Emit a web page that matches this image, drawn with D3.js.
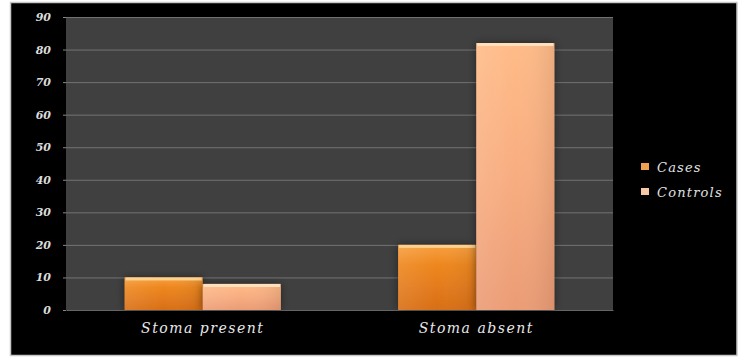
<!DOCTYPE html>
<html>
<head>
<meta charset="utf-8">
<script src="https://cdn.jsdelivr.net/npm/d3@7"></script>
<style>
  html, body { margin: 0; padding: 0; background: #ffffff; }
  svg { display: block; }
</style>
</head>
<body>
<svg id="chart" width="738" height="358"></svg>
<script>
// Chart data
const categories = ["Stoma present", "Stoma absent"];
const seriesNames = ["Cases", "Controls"];
const cases = [10, 20];
const controls = [8, 82];
const yTicks = [0, 10, 20, 30, 40, 50, 60, 70, 80, 90];

const svg = d3.select("#chart");
const W = 738, H = 358;
const plot = { left: 66, right: 613, top: 17, bottom: 310 };
const labelFont = "'DejaVu Serif', 'Liberation Serif', serif";

// Outer black frame with a light border
svg.append("rect").attr("x", 10.5).attr("y", 2.5).attr("width", W - 11.5).attr("height", 353)
  .attr("fill", "#000").attr("stroke", "#c8c8c8").attr("stroke-width", 1.5);

const defs = svg.append("defs");
function grad(id, stops) {
  const g = defs.append("linearGradient").attr("id", id)
    .attr("x1", 0).attr("y1", 0).attr("x2", 0).attr("y2", 1);
  stops.forEach(([o, c]) => g.append("stop").attr("offset", o).attr("stop-color", c));
}
grad("gCases", [[0, "#f7a040"], [0.3, "#ee871f"], [1, "#d86e17"]]);
grad("gControls", [[0, "#ffbb88"], [0.5, "#f8ad80"], [1, "#eb9c75"]]);
const hg = defs.append("linearGradient").attr("id", "gSide").attr("x1", 0).attr("x2", 1).attr("y1", 0).attr("y2", 0);
hg.append("stop").attr("offset", 0).attr("stop-color", "#fff").attr("stop-opacity", 0.1);
hg.append("stop").attr("offset", 0.5).attr("stop-color", "#fff").attr("stop-opacity", 0);
hg.append("stop").attr("offset", 1).attr("stop-color", "#000").attr("stop-opacity", 0.08);
const f = defs.append("filter").attr("id", "shadow").attr("x", "-20%").attr("y", "-20%").attr("width", "140%").attr("height", "140%");
f.append("feDropShadow").attr("dx", 0).attr("dy", 0).attr("stdDeviation", 4)
  .attr("flood-color", "#000").attr("flood-opacity", 0.45);

// Scales
const y = d3.scaleLinear().domain([0, 90]).range([plot.bottom, plot.top]);
const x0 = d3.scaleBand().domain(categories).range([plot.left, plot.right]).padding(0);
const x1 = d3.scaleBand().domain(seriesNames).range([0, x0.bandwidth()])
  .paddingInner(0).paddingOuter(0.75);

// Plot area background
svg.append("rect").attr("x", plot.left).attr("y", plot.top)
  .attr("width", plot.right - plot.left).attr("height", plot.bottom - plot.top)
  .attr("fill", "#404040");

// Gridlines
svg.append("g").selectAll("line").data(yTicks.filter(t => t > 0)).join("line")
  .attr("x1", plot.left).attr("x2", plot.right)
  .attr("y1", d => y(d) + 0.5).attr("y2", d => y(d) + 0.5)
  .attr("stroke", "#727272").attr("stroke-width", 1);

// Y axis
const yAxis = svg.append("g").attr("transform", `translate(${plot.left},0)`)
  .call(d3.axisLeft(y).tickValues(yTicks).tickSize(3).tickPadding(12).tickFormat(d3.format("d")));
yAxis.select(".domain").remove();
yAxis.selectAll("line").attr("stroke", "#888");
yAxis.selectAll("text").attr("fill", "#dcdcdc").attr("font-family", labelFont)
  .attr("font-style", "italic").attr("font-weight", "bold").attr("font-size", 11);

// X axis
const xAxis = svg.append("g").attr("transform", `translate(0,${plot.bottom})`)
  .call(d3.axisBottom(x0).tickSize(0).tickPadding(13));
xAxis.select(".domain").attr("stroke", "#666");
xAxis.selectAll("text").attr("fill", "#e8e8e8").attr("font-family", labelFont)
  .attr("font-style", "italic").attr("font-size", 14).attr("letter-spacing", 1.5);

// Bars
const rows = categories.map((c, i) => ({ cat: c, vals: [
  { key: "Cases", v: cases[i] }, { key: "Controls", v: controls[i] }] }));
const fills = { Cases: "url(#gCases)", Controls: "url(#gControls)" };
const groups = svg.append("g").selectAll("g").data(rows).join("g")
  .attr("transform", d => `translate(${x0(d.cat)},0)`);
const bar = groups.selectAll("g").data(d => d.vals).join("g");
bar.append("rect")
  .attr("x", d => x1(d.key)).attr("width", x1.bandwidth())
  .attr("y", d => y(d.v)).attr("height", d => y(0) - y(d.v))
  .attr("fill", d => fills[d.key]).attr("filter", "url(#shadow)");
bar.append("rect")
  .attr("x", d => x1(d.key)).attr("width", x1.bandwidth())
  .attr("y", d => y(d.v)).attr("height", d => y(0) - y(d.v))
  .attr("fill", "url(#gSide)");
bar.append("rect")
  .attr("x", d => x1(d.key) + 1).attr("width", x1.bandwidth() - 2)
  .attr("y", d => y(d.v)).attr("height", 3)
  .attr("fill", d => d.key === "Cases" ? "#fcd08e" : "#ffe0bd");

// Legend
const legend = svg.append("g").attr("transform", "translate(641,168)");
const lg = legend.selectAll("g").data(seriesNames).join("g")
  .attr("transform", (d, i) => `translate(0,${i * 25})`);
lg.append("rect").attr("x", 0).attr("y", -5).attr("width", 8).attr("height", 7)
  .attr("fill", d => d === "Cases" ? "#f0a050" : "#f5c8a8");
lg.append("text").attr("x", 16).attr("y", 0).attr("dy", "0.3em")
  .attr("fill", "#e0e0e0").attr("font-family", labelFont).attr("font-style", "italic")
  .attr("font-size", 13).attr("letter-spacing", 1.2).text(d => d);
</script>
</body>
</html>
